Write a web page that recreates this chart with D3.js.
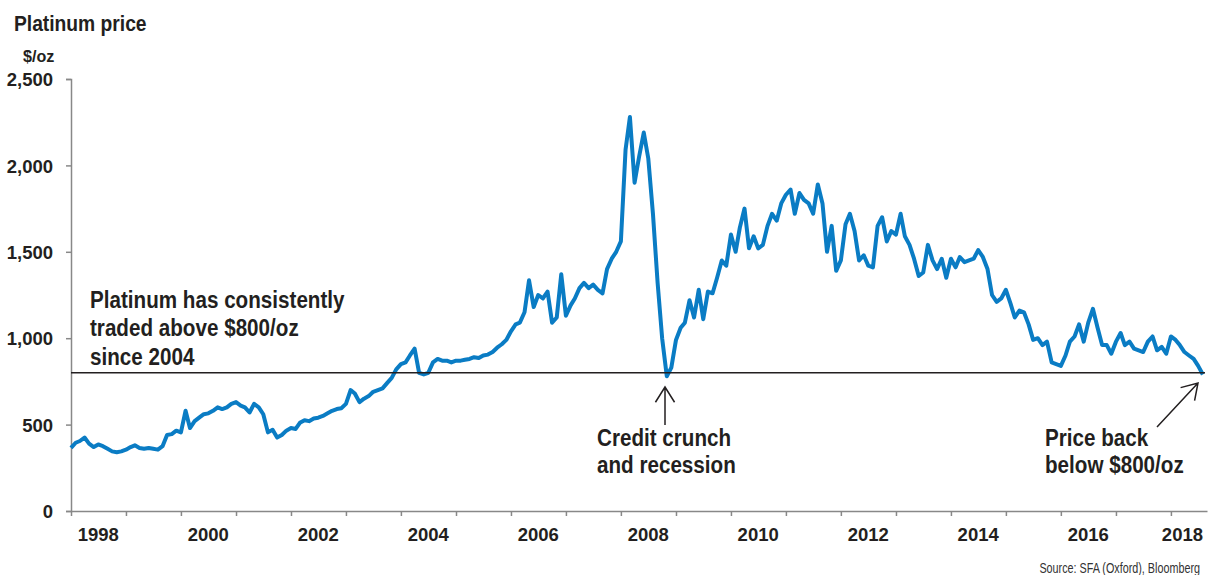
<!doctype html>
<html lang="en">
  <head>
    <meta charset="utf-8">
    <title>Platinum price</title>
    <script src="https://d3js.org/d3.v7.min.js"></script>
    <style>
      body { margin: 0; background: #fff; }
      svg text { font-family: "Liberation Sans", Arial, sans-serif; fill: #231f20; }
    </style>
  </head>

  <body>
    <svg width="1210" height="575"></svg>
    <script>
      // monthly platinum price, $/oz (first value = Jan 1998)
      var startMonth = new Date(1998, 0, 1);
      var prices = [
        365, 395, 405, 425, 390, 370, 385, 375, 360, 345, 340, 345,       // 1998
        355, 370, 380, 365, 360, 365, 360, 355, 375, 440, 445, 465,       // 1999
        455, 580, 480, 520, 540, 560, 565, 580, 600, 590, 600, 620,       // 2000
        630, 610, 600, 570, 620, 600, 560, 455, 470, 425, 440, 465,       // 2001
        480, 475, 510, 525, 520, 535, 540, 550, 565, 580, 590, 595,       // 2002
        620, 700, 680, 630, 650, 665, 690, 700, 710, 740, 770, 820,       // 2003
        850, 860, 900, 940, 800, 790, 800, 860, 880, 870, 870, 860,       // 2004
        870, 870, 875, 880, 890, 885, 900, 905, 920, 945, 965, 990,       // 2005
        1040, 1080, 1090, 1150, 1335, 1180, 1250, 1230, 1270, 1090, 1120, 1370, // 2006
        1130, 1190, 1230, 1290, 1320, 1290, 1310, 1280, 1260, 1400, 1460, 1500, // 2007
        1560, 2090, 2280, 1900, 2050, 2190, 2040, 1720, 1320, 1000, 780, 830,   // 2008
        990, 1060, 1090, 1220, 1120, 1280, 1110, 1270, 1260, 1350, 1450, 1420,  // 2009
        1600, 1500, 1640, 1750, 1520, 1590, 1520, 1540, 1650, 1720, 1680, 1780, // 2010
        1830, 1860, 1720, 1840, 1800, 1780, 1720, 1890, 1780, 1500, 1650, 1390, // 2011
        1450, 1660, 1720, 1620, 1450, 1480, 1420, 1410, 1650, 1700, 1560, 1620, // 2012
        1600, 1720, 1590, 1540, 1460, 1360, 1380, 1540, 1450, 1400, 1460, 1350, // 2013
        1460, 1410, 1470, 1440, 1450, 1460, 1510, 1470, 1400, 1250, 1210, 1230, // 2014
        1280, 1200, 1120, 1160, 1150, 1080, 990, 1000, 960, 980, 860, 850,      // 2015
        840, 900, 980, 1010, 1080, 980, 1090, 1170, 1060, 960, 960, 910,        // 2016
        980, 1030, 960, 980, 940, 930, 920, 980, 1010, 930, 950, 910,           // 2017
        1010, 990, 960, 920, 900, 880, 840, 790                                 // 2018
      ];
      var yTicks = [0, 500, 1000, 1500, 2000, 2500];
      var labelYears = [1998, 2000, 2002, 2004, 2006, 2008, 2010, 2012, 2014, 2016, 2018];
      var threshold = 800;

      var data = prices.map(function(v, i){
        return { date: d3.timeMonth.offset(startMonth, i), value: v };
      });

      var svg = d3.select('svg');
      var x = d3.scaleTime()
        .domain([new Date(1998, 0, 1), new Date(2018, 8, 1)])
        .range([71, 1207.5]);
      var y = d3.scaleLinear().domain([0, 2500]).range([511, 79]);

      // condensed bold text: the original font is a narrow grotesque
      var label = function(x0, y0, str, size, sx, anchor, weight){
        return svg.append('text')
          .attr('transform', 'translate(' + x0 + ',' + y0 + ') scale(' + sx + ',1)')
          .attr('text-anchor', anchor || 'start')
          .style('font-size', size + 'px')
          .style('font-weight', weight || 'bold')
          .text(str);
      };

      // y axis
      var yAxis = svg.append('g')
        .attr('transform', 'translate(71,0)')
        .call(d3.axisLeft(y).tickValues(yTicks).tickSize(5).tickPadding(13)
          .tickFormat(d3.format(',')));
      yAxis.select('.domain').attr('stroke', '#888').attr('stroke-width', 1.5);
      yAxis.selectAll('.tick line').attr('stroke', '#888').attr('stroke-width', 1.5);
      yAxis.selectAll('text').style('font-size', '18.5px').style('font-weight', 'bold')
        .attr('dy', '0.36em');

      // x axis: ticks on year boundaries, labels in the middle of even years
      var years = d3.timeYear.range(new Date(1998, 0, 1), new Date(2018, 8, 1));
      var xAxis = svg.append('g')
        .attr('transform', 'translate(0,511)')
        .call(d3.axisBottom(x).tickValues(years).tickSize(5).tickFormat(''));
      xAxis.select('.domain').attr('stroke', '#888').attr('stroke-width', 1.5)
        .attr('d', 'M71,0.5H1207.5');
      xAxis.selectAll('.tick line').attr('stroke', '#888').attr('stroke-width', 1.5);

      labelYears.forEach(function(yr){
        var cx = x(new Date(yr, 6, 1));
        if (cx + 21 > x.range()[1]) label(1203, 541, yr, 18.5, 1, 'end');
        else label(cx, 541, yr, 18.5, 1, 'middle');
      });

      // price line
      svg.append('path')
        .datum(data)
        .attr('fill', 'none')
        .attr('stroke', '#0a7cc4')
        .attr('stroke-width', 4)
        .attr('stroke-linejoin', 'round')
        .attr('d', d3.line()
          .x(function(d){ return x(d.date); })
          .y(function(d){ return y(d.value); }));

      // $800 line
      svg.append('line')
        .attr('x1', 71).attr('x2', 1205)
        .attr('y1', y(threshold)).attr('y2', y(threshold))
        .attr('stroke', '#231f20').attr('stroke-width', 1.5);

      // titles
      label(14, 30.5, 'Platinum price', 22, 0.875);
      label(23, 62, '$/oz', 17, 0.95);

      // annotations
      var note = function(lines, x0, y0, lh){
        lines.forEach(function(l, i){ label(x0, y0 + i * lh, l, 24, 0.86); });
      };
      note(['Platinum has consistently', 'traded above $800/oz', 'since 2004'], 90, 307.5, 28.7);
      note(['Credit crunch', 'and recession'], 597, 445.5, 27.7);
      note(['Price back', 'below $800/oz'], 1045, 445.5, 27.7);

      // arrows
      var arrow = function(x1, y1, x2, y2){
        var a = Math.atan2(y2 - y1, x2 - x1), h = 18, s = 0.56;
        svg.append('path')
          .attr('fill', 'none').attr('stroke', '#231f20').attr('stroke-width', 1.5)
          .attr('d', 'M' + x1 + ',' + y1 + 'L' + x2 + ',' + y2 +
            'M' + (x2 - h * Math.cos(a - s)) + ',' + (y2 - h * Math.sin(a - s)) +
            'L' + x2 + ',' + y2 +
            'L' + (x2 - h * Math.cos(a + s)) + ',' + (y2 - h * Math.sin(a + s)));
      };
      arrow(665, 425, 665, 387);
      arrow(1157, 427, 1198, 383);

      label(1200, 573, 'Source: SFA (Oxford), Bloomberg', 15, 0.72, 'end', 'normal')
        .style('fill', '#333');
    </script>
  </body>
</html>
